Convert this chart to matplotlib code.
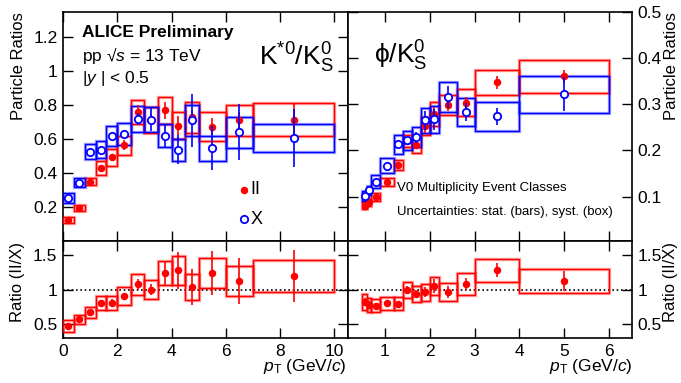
import matplotlib
matplotlib.use("Agg")
import matplotlib.pyplot as plt
from matplotlib.patches import Rectangle
from matplotlib.ticker import FuncFormatter
import numpy as np

plt.rcParams['font.family'] = ['Liberation Sans', 'DejaVu Sans']
plt.rcParams['mathtext.fontset'] = 'custom'
plt.rcParams['mathtext.rm'] = 'Liberation Sans'
plt.rcParams['mathtext.it'] = 'Liberation Sans:italic'
plt.rcParams['mathtext.bf'] = 'Liberation Sans:bold'

ROJO = '#ff0000'
AZUL = '#0000ff'

# K*0/K0S : bins en pT
kst_bordes = [0.0, 0.4, 0.8, 1.2, 1.6, 2.0, 2.5, 3.0, 3.5, 4.0, 4.5, 5.0, 6.0, 7.0, 10.0]
kst_II = [0.122, 0.192, 0.347, 0.429, 0.493, 0.564, 0.761, 0.714, 0.769, 0.679, 0.728, 0.672, 0.709, 0.714]
kst_II_stat = [0.005, 0.005, 0.006, 0.014, 0.018, 0.032, 0.04, 0.03, 0.05, 0.055, 0.045, 0.05, 0.05, 0.095]
kst_II_syst = [0.015, 0.016, 0.021, 0.039, 0.05, 0.056, 0.071, 0.077, 0.08, 0.078, 0.092, 0.087, 0.093, 0.096]
kst_X = [0.253, 0.343, 0.525, 0.537, 0.615, 0.628, 0.718, 0.714, 0.62, 0.537, 0.709, 0.544, 0.638, 0.605]
kst_X_stat = [0.006, 0.006, 0.008, 0.012, 0.02, 0.022, 0.035, 0.07, 0.07, 0.085, 0.155, 0.13, 0.165, 0.17]
kst_X_syst = [0.031, 0.029, 0.043, 0.05, 0.059, 0.063, 0.075, 0.076, 0.066, 0.065, 0.092, 0.072, 0.089, 0.083]
kst_ratio = [0.476, 0.572, 0.673, 0.808, 0.812, 0.904, 1.072, 1.0, 1.24, 1.274, 1.034, 1.236, 1.115, 1.193]
kst_ratio_stat = [0.05, 0.025, 0.025, 0.045, 0.045, 0.05, 0.085, 0.08, 0.17, 0.26, 0.26, 0.32, 0.33, 0.37]
kst_ratio_syst = [0.085, 0.063, 0.077, 0.1, 0.1, 0.125, 0.15, 0.14, 0.175, 0.205, 0.19, 0.22, 0.215, 0.225]

# phi/K0S
phi_bordes = [0.5, 0.6, 0.7, 0.9, 1.2, 1.4, 1.6, 1.8, 2.0, 2.2, 2.6, 3.0, 4.0, 6.0]
phi_II = [0.081, 0.088, 0.1, 0.132, 0.168, 0.2205, 0.212, 0.253, 0.279, 0.299, 0.303, 0.347, 0.36]
phi_II_stat = [0.004, 0.004, 0.004, 0.004, 0.005, 0.008, 0.009, 0.015, 0.015, 0.013, 0.013, 0.014, 0.014]
phi_II_syst = [0.008, 0.008, 0.0085, 0.0095, 0.011, 0.0125, 0.017, 0.02, 0.025, 0.022, 0.029, 0.028, 0.035]
phi_X = [0.102, 0.114, 0.132, 0.167, 0.213, 0.222, 0.229, 0.265, 0.267, 0.315, 0.283, 0.274, 0.322]
phi_X_stat = [0.005, 0.005, 0.005, 0.005, 0.006, 0.01, 0.012, 0.02, 0.023, 0.024, 0.02, 0.018, 0.036]
phi_X_syst = [0.011, 0.01, 0.014, 0.016, 0.02, 0.021, 0.0215, 0.027, 0.029, 0.0325, 0.031, 0.031, 0.04]
phi_ratio = [0.817, 0.779, 0.769, 0.803, 0.798, 0.995, 0.937, 0.962, 1.048, 0.962, 1.077, 1.279, 1.125]
phi_ratio_stat = [0.06, 0.06, 0.03, 0.025, 0.03, 0.05, 0.06, 0.07, 0.1, 0.09, 0.09, 0.1, 0.14]
phi_ratio_syst = [0.113, 0.105, 0.094, 0.09, 0.095, 0.115, 0.115, 0.12, 0.125, 0.125, 0.155, 0.165, 0.17]


def pintarSerie(ax, bordes, valores, stat, syst, color, relleno):
    bordes = np.array(bordes)
    centros = 0.5 * (bordes[:-1] + bordes[1:])
    for i in range(len(valores)):
        ancho = bordes[i + 1] - bordes[i]
        # caja de sistematico: trazo palido grueso + trazo fino
        ax.add_patch(Rectangle((bordes[i], valores[i] - syst[i]), ancho, 2 * syst[i],
                               fill=False, ec=color, lw=2.4, alpha=0.35, zorder=2))
        ax.add_patch(Rectangle((bordes[i], valores[i] - syst[i]), ancho, 2 * syst[i],
                               fill=False, ec=color, lw=1.0, zorder=3))
    if relleno:
        ax.errorbar(centros, valores, yerr=stat, fmt='o', color=color, ms=4.4,
                    elinewidth=1.2, capsize=0, zorder=5)
    else:
        ax.errorbar(centros, valores, yerr=stat, fmt='o', color=color, mfc='white',
                    mec=color, mew=1.3, ms=5.3, elinewidth=1.2, capsize=0, zorder=6)


def estiloEjes(ax):
    ax.tick_params(direction='in', top=True, right=True, length=7, width=1.0,
                   labelsize=12.5, pad=4)
    for s in ax.spines.values():
        s.set_linewidth(1.2)
    ax.yaxis.set_major_formatter(FuncFormatter(lambda v, p: '%g' % v))


fig = plt.figure(figsize=(6.81, 3.83), dpi=100)
W, H = 681.0, 383.0
x0, xm, x1 = 63 / W, 348 / W, 631.7 / W
ytop, ymid, ybot = 1 - 11.7 / H, 1 - 240.7 / H, 1 - 338.3 / H

axKs = fig.add_axes([x0, ymid, xm - x0, ytop - ymid])
axKr = fig.add_axes([x0, ybot, xm - x0, ymid - ybot])
axPs = fig.add_axes([xm, ymid, x1 - xm, ytop - ymid])
axPr = fig.add_axes([xm, ybot, x1 - xm, ymid - ybot])

pintarSerie(axKs, kst_bordes, kst_II, kst_II_stat, kst_II_syst, ROJO, True)
pintarSerie(axKs, kst_bordes, kst_X, kst_X_stat, kst_X_syst, AZUL, False)
pintarSerie(axKr, kst_bordes, kst_ratio, kst_ratio_stat, kst_ratio_syst, ROJO, True)
pintarSerie(axPs, phi_bordes, phi_II, phi_II_stat, phi_II_syst, ROJO, True)
pintarSerie(axPs, phi_bordes, phi_X, phi_X_stat, phi_X_syst, AZUL, False)
pintarSerie(axPr, phi_bordes, phi_ratio, phi_ratio_stat, phi_ratio_syst, ROJO, True)

for ax in (axKr, axPr):
    ax.axhline(1.0, color='k', lw=1.2, ls=(0, (1, 1.6)), zorder=1)

for ax in (axKs, axKr, axPs, axPr):
    estiloEjes(ax)

axKs.set_xlim(0, 10.5)
axKr.set_xlim(0, 10.5)
axKs.set_ylim(0.0, 1.35)
axKs.set_yticks([0.2, 0.4, 0.6, 0.8, 1.0, 1.2])
axKs.set_xticks([0, 2, 4, 6, 8, 10])
axKs.tick_params(labelbottom=False)
axKr.set_xticks([0, 2, 4, 6, 8, 10])
axKr.set_ylim(0.3, 1.7)
axKr.set_yticks([0.5, 1.0, 1.5])

axPs.set_xlim(0.18, 6.5)
axPr.set_xlim(0.18, 6.5)
axPs.set_ylim(0.005, 0.5)
axPs.set_yticks([0.1, 0.2, 0.3, 0.4, 0.5])
axPs.set_xticks([1, 2, 3, 4, 5, 6])
axPs.tick_params(labelbottom=False, labelleft=False, labelright=True)
axPr.set_xticks([1, 2, 3, 4, 5, 6])
axPr.set_ylim(0.3, 1.7)
axPr.set_yticks([0.5, 1.0, 1.5])
axPr.tick_params(labelleft=False, labelright=True)

# etiquetas de ejes
fig.text(18.5 / W, 1 - 12 / H, 'Particle Ratios', rotation=90, ha='center', va='top', fontsize=12)
fig.text(17.5 / W, 1 - 242 / H, 'Ratio (II/X)', rotation=90, ha='center', va='top', fontsize=12)
fig.text(671 / W, 1 - 12 / H, 'Particle Ratios', rotation=90, ha='center', va='top', fontsize=12)
fig.text(671 / W, 1 - 242 / H, 'Ratio (II/X)', rotation=90, ha='center', va='top', fontsize=12)
fig.text(347 / W, 1 - 367 / H, r'$p_{\rm T}$ (GeV/$c$)', ha='right', va='center', fontsize=12.5)
fig.text(633 / W, 1 - 367 / H, r'$p_{\rm T}$ (GeV/$c$)', ha='right', va='center', fontsize=12.5)

# textos del panel K*
fig.text(82 / W, 1 - 32 / H, 'ALICE Preliminary', ha='left', va='center', fontsize=12.5, fontweight='bold')
fig.text(82 / W, 1 - 55 / H, 'pp √$s$ = 13 TeV', ha='left', va='center', fontsize=12.5)
fig.text(82 / W, 1 - 78 / H, '|$y$ | < 0.5', ha='left', va='center', fontsize=12.5)
fig.text(334 / W, 1 - 58 / H, r'K$^{*0}$/K$^{0}_{\rm S}$', ha='right', va='center', fontsize=19)
fig.text(374 / W, 1 - 56 / H, r'ϕ/K$^{0}_{\rm S}$', ha='left', va='center', fontsize=19)

# leyenda
axKs.plot([6.68], [0.3], 'o', color=ROJO, ms=4.4)
axKs.text(6.9, 0.3, 'II', ha='left', va='center', fontsize=13)
axKs.plot([6.68], [0.125], 'o', color=AZUL, mfc='white', mew=1.3, ms=5.3)
axKs.text(6.9, 0.125, 'X', ha='left', va='center', fontsize=13)

fig.text(397 / W, 1 - 188 / H, 'V0 Multiplicity Event Classes', ha='left', va='center', fontsize=9.5)
fig.text(397 / W, 1 - 212 / H, 'Uncertainties: stat. (bars), syst. (box)', ha='left', va='center', fontsize=9.5)

fig.savefig('out.png', dpi=100)
